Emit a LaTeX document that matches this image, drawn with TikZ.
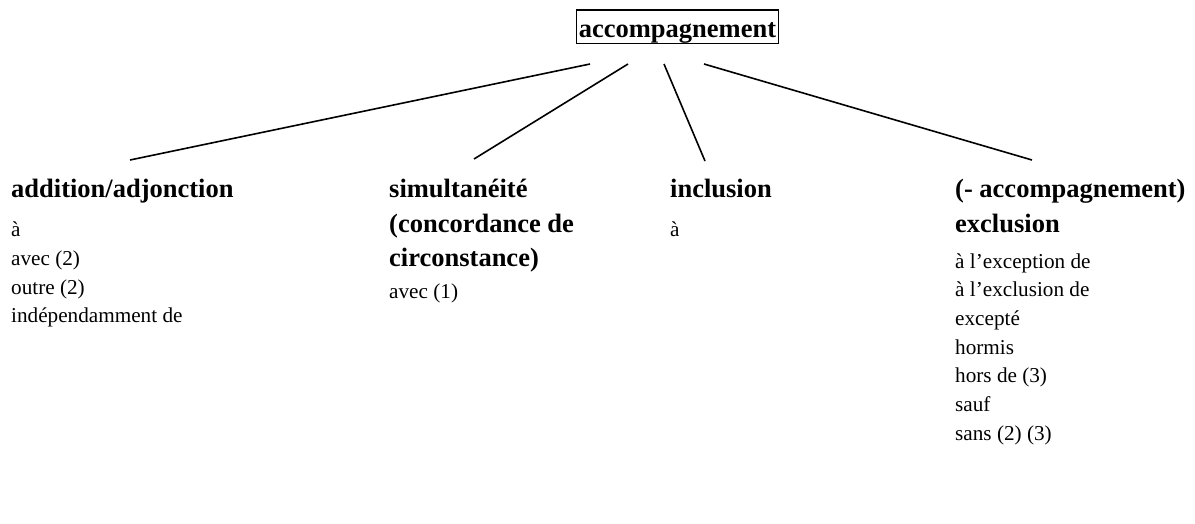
\documentclass[tikz,border=0pt]{standalone}
\usepackage{fontspec}
\setmainfont{Liberation Serif}
\tikzset{
  x=1pt, y=-1pt,
  hd/.style={anchor=base west, inner sep=0pt, font=\fontsize{26.5}{30}\selectfont\bfseries},
  it/.style={anchor=base west, inner sep=0pt, font=\fontsize{21.2}{25}\selectfont},
  conn/.style={line width=1.6pt},
  rootbox/.style={draw, line width=1.6pt, anchor=base, inner xsep=2.5pt, inner ysep=0pt,
    text height=27pt, text depth=6.5pt, font=\fontsize{26.5}{30}\selectfont\bfseries}
}
\begin{document}
\begin{tikzpicture}
\useasboundingbox (0,0) rectangle (1195,523);
\node[rootbox] (root) at (677.5,37) {accompagnement};

% column 1
\node[hd] (h1) at (11,197) {addition/adjonction};
\node[it] (a1) at (11,236) {à};
\node[it] (a2) at (11,265) {avec (2)};
\node[it] (a3) at (11,294) {outre (2)};
\node[it] (a4) at (11,322) {indépendamment de};

% column 2
\node[hd] (h2a) at (389,197) {simultanéité};
\node[hd] (h2b) at (389,232) {(concordance de};
\node[hd] (h2c) at (389,266) {circonstance)};
\node[it] (s1) at (389,298) {avec (1)};

% column 3
\node[hd] (h3) at (670,197) {inclusion};
\node[it] (i1) at (670,236) {à};

% column 4
\node[hd] (h4a) at (955,197) {(- accompagnement)};
\node[hd] (h4b) at (955,232) {exclusion};
\node[it] (e1) at (955,268) {à l’exception de};
\node[it] (e2) at (955,296.7) {à l’exclusion de};
\node[it] (e3) at (955,325.4) {excepté};
\node[it] (e4) at (955,354) {hormis};
\node[it] (e5) at (955,382.8) {hors de (3)};
\node[it] (e6) at (955,411.5) {sauf};
\node[it] (e7) at (955,440) {sans (2) (3)};

% connector ends
\coordinate (t1) at (590,64);
\coordinate (t2) at (628,64);
\coordinate (t3) at (664,64);
\coordinate (t4) at (704,64);
\coordinate (b1) at (130,160);
\coordinate (b2) at (474,159);
\coordinate (b3) at (705,161);
\coordinate (b4) at (1032,160);
\draw[conn] (t1) -- (b1);
\draw[conn] (t2) -- (b2);
\draw[conn] (t3) -- (b3);
\draw[conn] (t4) -- (b4);
\end{tikzpicture}
\end{document}
